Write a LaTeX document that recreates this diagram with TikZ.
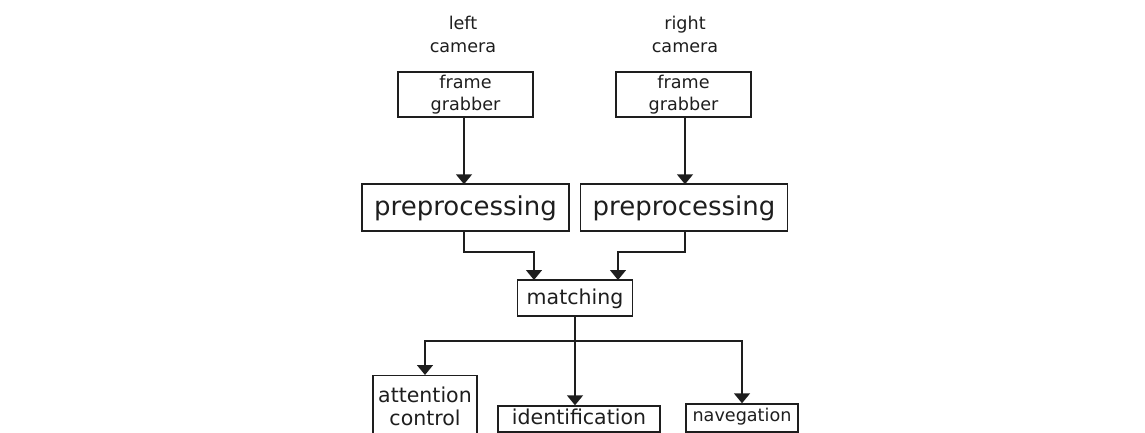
\documentclass[tikz,border=0pt]{standalone}
\usepackage{fontspec}
\setmainfont{DejaVu Sans}
\usetikzlibrary{arrows.meta}
\definecolor{ink}{HTML}{1E1E1E}
\tikzset{
  box/.style={draw=ink, line width=1.4pt, text=ink, rectangle, inner xsep=0pt, align=center},
  lbl/.style={text=ink, inner sep=0pt, align=center, font=\fontsize{17.6}{23}\selectfont},
  small/.style={font=\fontsize{17.6}{22}\selectfont},
  mid/.style={font=\fontsize{20.5}{23}\selectfont},
  big/.style={font=\fontsize{26}{30}\selectfont},
  arr/.style={draw=ink, line width=1.4pt, -{Triangle[width=16pt,length=10pt]}},
  conn/.style={draw=ink, line width=1.4pt}
}
\begin{document}
\begin{tikzpicture}[x=1pt,y=-1pt]
\useasboundingbox (0,0) rectangle (1145,433);
\clip (0,0) rectangle (1145,433);
% camera labels
\node[lbl, anchor=base] (camL) at (463,53) {left\\camera};
\node[lbl, anchor=base] (camR) at (685,53) {right\\camera};
% frame grabbers
\node[box, small, minimum width=135pt, minimum height=45pt, inner ysep=2.7pt] (fgL) at (465.5,94.5) {frame\\grabber};
\node[box, small, minimum width=135pt, minimum height=45pt, inner ysep=2.7pt] (fgR) at (683.5,94.5) {frame\\grabber};
% preprocessing
\node[box, big, minimum width=207pt, minimum height=47pt, inner ysep=0pt, text height=21.5pt, text depth=5.5pt] (preL) at (465.5,207.5) {preprocessing};
\node[box, big, minimum width=207pt, minimum height=47pt, inner ysep=0pt, text height=21.5pt, text depth=5.5pt] (preR) at (684,207.5) {preprocessing};
% matching
\node[box, mid, minimum width=115pt, minimum height=36pt, inner ysep=0pt, text height=16pt, text depth=4pt] (match) at (575,298) {matching};
% outputs
\node[box, mid, minimum width=104pt, minimum height=61pt, inner ysep=0pt, anchor=north] (att) at (425,375) {attention\\control};
\node[box, mid, minimum width=162pt, minimum height=26pt, inner ysep=0pt, text height=15pt, text depth=5pt] (ident) at (579,419) {identification};
\node[box, small, minimum width=112pt, minimum height=28pt, inner ysep=0pt, text height=13pt, text depth=7pt] (nav) at (742,418) {navegation};
% helper coordinates
\coordinate (hTop) at (0,252);
\coordinate (hBot) at (0,341);
\coordinate (mL) at (534,280);
\coordinate (mR) at (618,280);
% connectors
\draw[arr] (fgL.south -| 464,0) -- (464,184.3);
\draw[arr] (fgR.south -| 685,0) -- (685,184.3);
\draw[arr] (preL.south -| 464,0) |- (hTop -| mL) -- (mL);
\draw[arr] (preR.south -| 685,0) |- (hTop -| mR) -- (mR);
\draw[arr] (match.south) -- (match.south |- ident.north);
\draw[arr] (match.south |- hBot) -| (att.north);
\draw[arr] (match.south |- hBot) -| (nav.north);
\end{tikzpicture}
\end{document}
